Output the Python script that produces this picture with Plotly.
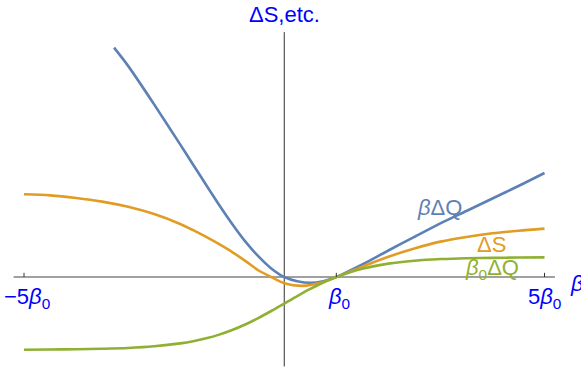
import plotly.graph_objects as go

# ---- data (x in units of beta0) ----
beta_blue = [-3.27, -3, -2.5, -2, -1.75, -1.5, -1.25, -1, -0.75, -0.5, -0.25, 0, 0.25, 0.5, 0.75, 1, 1.5, 2, 2.5, 3, 3.5, 4, 4.5, 5]
beta_dQ = [4.41, 4.06, 3.32, 2.55, 2.16, 1.77, 1.385, 1.02, 0.685, 0.40, 0.164, 0.0, -0.08, -0.11, -0.08, 0.0, 0.24, 0.51, 0.77, 1.03, 1.27, 1.51, 1.75, 2.0]

beta_orange = [-5, -4.5, -4, -3.5, -3, -2.5, -2, -1.75, -1.5, -1.25, -1, -0.75, -0.5, -0.25, 0, 0.35, 0.7, 1, 1.5, 2, 2.5, 3, 3.5, 4, 4.5, 5]
dS = [1.59, 1.57, 1.52, 1.45, 1.35, 1.21, 1.02, 0.90, 0.77, 0.63, 0.48, 0.31, 0.13, 0.0, -0.12, -0.17, -0.11, 0.0, 0.20, 0.39, 0.55, 0.68, 0.77, 0.84, 0.89, 0.93]

beta_green = [-5, -4.5, -4, -3.5, -3, -2.5, -2, -1.75, -1.5, -1.25, -1, -0.75, -0.5, -0.25, 0, 0.25, 0.5, 0.75, 1, 1.25, 1.5, 2, 2.5, 3, 3.5, 4, 4.5, 5]
beta0_dQ = [-1.40, -1.395, -1.39, -1.38, -1.365, -1.333, -1.277, -1.235, -1.179, -1.108, -1.02, -0.914, -0.79, -0.654, -0.51, -0.366, -0.23, -0.106, 0.0, 0.088, 0.159, 0.257, 0.313, 0.345, 0.362, 0.368, 0.375, 0.378]

tick_vals = [-5, 1, 5]
tick_text = ["−5<i>β</i><sub>0</sub>", "<i>β</i><sub>0</sub>", "5<i>β</i><sub>0</sub>"]

BLUE = "#5E81B5"
ORANGE = "#E19C24"
GREEN = "#8FB032"
LABEL = "#0000FF"
FONT = "Liberation Sans"

fig = go.Figure()
for xs, ys, c in [(beta_blue, beta_dQ, BLUE), (beta_orange, dS, ORANGE), (beta_green, beta0_dQ, GREEN)]:
    fig.add_trace(go.Scatter(x=xs, y=ys, mode="lines", line=dict(color=c, width=2.6, shape="spline", smoothing=0.8),
                             hoverinfo="skip", showlegend=False))

# axes
shapes = [
    dict(type="line", x0=-5.2, x1=5.2, y0=0, y1=0, line=dict(color="#808080", width=1.3), layer="below"),
    dict(type="line", x0=0, x1=0, y0=-1.72, y1=4.71, line=dict(color="#333333", width=1), layer="below"),
]
for t in tick_vals:
    shapes.append(dict(type="line", x0=t, x1=t, y0=0, y1=0.08, line=dict(color="#333333", width=1)))

annotations = []
for t, s in zip(tick_vals, tick_text):
    annotations.append(dict(x=t + (0.05 if t != 5 else 0.0), y=-0.41, text=s, showarrow=False,
                            font=dict(family=FONT, size=22, color=LABEL), xref="x", yref="y"))
annotations += [
    dict(x=5.62, y=-0.13, text="<i>β</i>", showarrow=False, font=dict(family=FONT, size=22, color=LABEL)),
    dict(x=0, y=5.05, text="ΔS,etc.", showarrow=False, font=dict(family=FONT, size=22, color=LABEL)),
    dict(x=2.99, y=1.33, text="<i>β</i>ΔQ", showarrow=False, font=dict(family=FONT, size=22, color=BLUE)),
    dict(x=3.99, y=0.62, text="ΔS", showarrow=False, font=dict(family=FONT, size=22, color=ORANGE)),
    dict(x=3.99, y=0.15, text="<i>β</i><sub>0</sub>ΔQ", showarrow=False, font=dict(family=FONT, size=22, color=GREEN)),
]

fig.update_layout(
    width=581, height=368,
    margin=dict(l=0, r=0, t=0, b=0),
    paper_bgcolor="white", plot_bgcolor="white",
    xaxis=dict(range=[-5.461, 5.701], showgrid=False, zeroline=False, showticklabels=False, fixedrange=True),
    yaxis=dict(range=[-1.75, 5.327], showgrid=False, zeroline=False, showticklabels=False, fixedrange=True),
    shapes=shapes, annotations=annotations,
)
fig.write_html("out.html", config={"displayModeBar": False},
               post_script="document.body.style.margin='0';document.body.style.overflow='hidden';")
